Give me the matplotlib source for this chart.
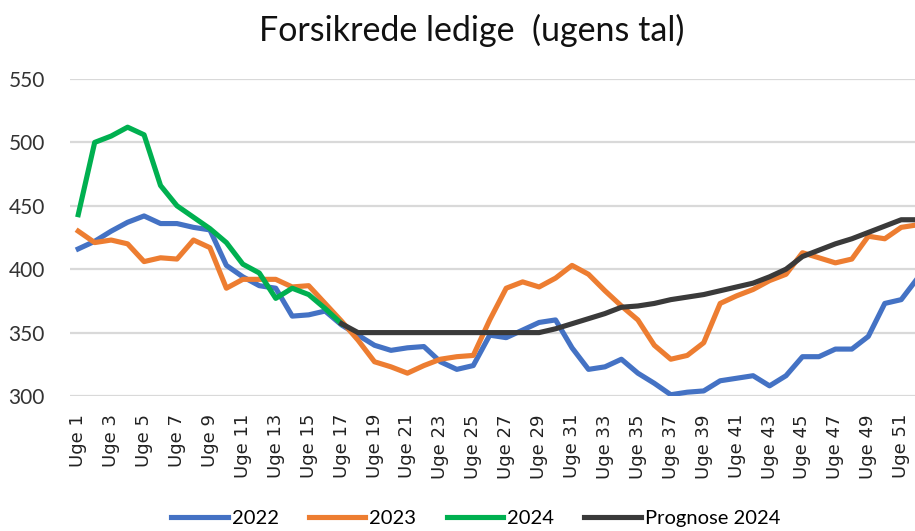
import numpy as np
import matplotlib
matplotlib.use("Agg")
import matplotlib.pyplot as plt

# ugenumre og data
weeks = list(range(1, 53))
tick_weeks = list(range(1, 52, 2))
tick_labels = ["Uge " + str(w) for w in tick_weeks]

y2022 = [416, 422, 430, 437, 442, 436, 436, 433, 431, 403, 394, 387, 385,
         363, 364, 367, 356, 348, 340, 336, 338, 339, 327, 321, 324, 348,
         346, 352, 358, 360, 338, 321, 323, 329, 318, 310, 301, 303, 304,
         312, 314, 316, 308, 316, 331, 331, 337, 337, 347, 373, 376, 393]

y2023 = [430, 421, 423, 420, 406, 409, 408, 423, 417, 385, 392, 392, 392,
         386, 387, 373, 359, 344, 327, 323, 318, 324, 329, 331, 332, 360,
         385, 390, 386, 393, 403, 396, 383, 371, 360, 340, 329, 332, 342,
         373, 379, 384, 391, 396, 413, 409, 405, 408, 426, 424, 433, 435]

weeks2024 = list(range(1, 18))
y2024 = [443, 500, 505, 512, 506, 466, 450, 441, 432, 421, 404, 397, 377,
         385, 380, 369, 357]

weeks_prog = list(range(17, 53))
prognose = [357, 350, 350, 350, 350, 350, 350, 350, 350, 350, 350, 350, 350,
            353, 357, 361, 365, 370, 371, 373, 376, 378, 380, 383, 386, 389,
            394, 400, 410, 415, 420, 424, 429, 434, 439, 439]

W, H = 915, 531
fig = plt.figure(figsize=(W / 100, H / 100), dpi=100)
ax = fig.add_axes([70 / W, 1 - 396 / H, (W - 70) / W, (396 - 79) / H])

lw = 3.7
ax.plot(weeks, y2022, color="#4472C4", lw=lw, label="2022", solid_joinstyle="round")
ax.plot(weeks, y2023, color="#ED7D31", lw=lw, label="2023", solid_joinstyle="round")
ax.plot(weeks2024, y2024, color="#00B050", lw=lw, label="2024", solid_joinstyle="round")
ax.plot(weeks_prog, prognose, color="#3A3A3A", lw=lw, label="Prognose 2024", solid_joinstyle="round")

ax.set_xlim(0.5, 0.5 + (W - 70) / 16.46)
ax.set_ylim(300, 550)
ax.set_yticks([300, 350, 400, 450, 500, 550])
ax.grid(axis="y", color="#D9D9D9", lw=1.6)
ax.set_axisbelow(True)
for s in ax.spines.values():
    s.set_visible(False)

ax.set_xticks(tick_weeks)
ax.set_xticklabels(tick_labels, rotation=90, fontsize=13, family="DejaVu Sans",
                   va="top", ha="center", color="#222222")
ax.tick_params(axis="x", length=0, pad=13)
ax.tick_params(axis="y", length=0, pad=18, labelsize=15, labelcolor="#333333")
for t in ax.get_yticklabels():
    t.set_family("Lato")

fig.text(0.515, 1 - 30 / H, "Forsikrede ledige  (ugens tal)", ha="center",
         va="center", fontsize=24.5, family="Lato", color="#111111")

fig.legend(loc="center", bbox_to_anchor=(0.52, 1 - 518 / H), ncol=4,
           frameon=False, handlelength=2.8, handletextpad=0.2,
           columnspacing=1.5, prop={"family": "Lato", "size": 14.5})

fig.savefig("out.png", dpi=100)
